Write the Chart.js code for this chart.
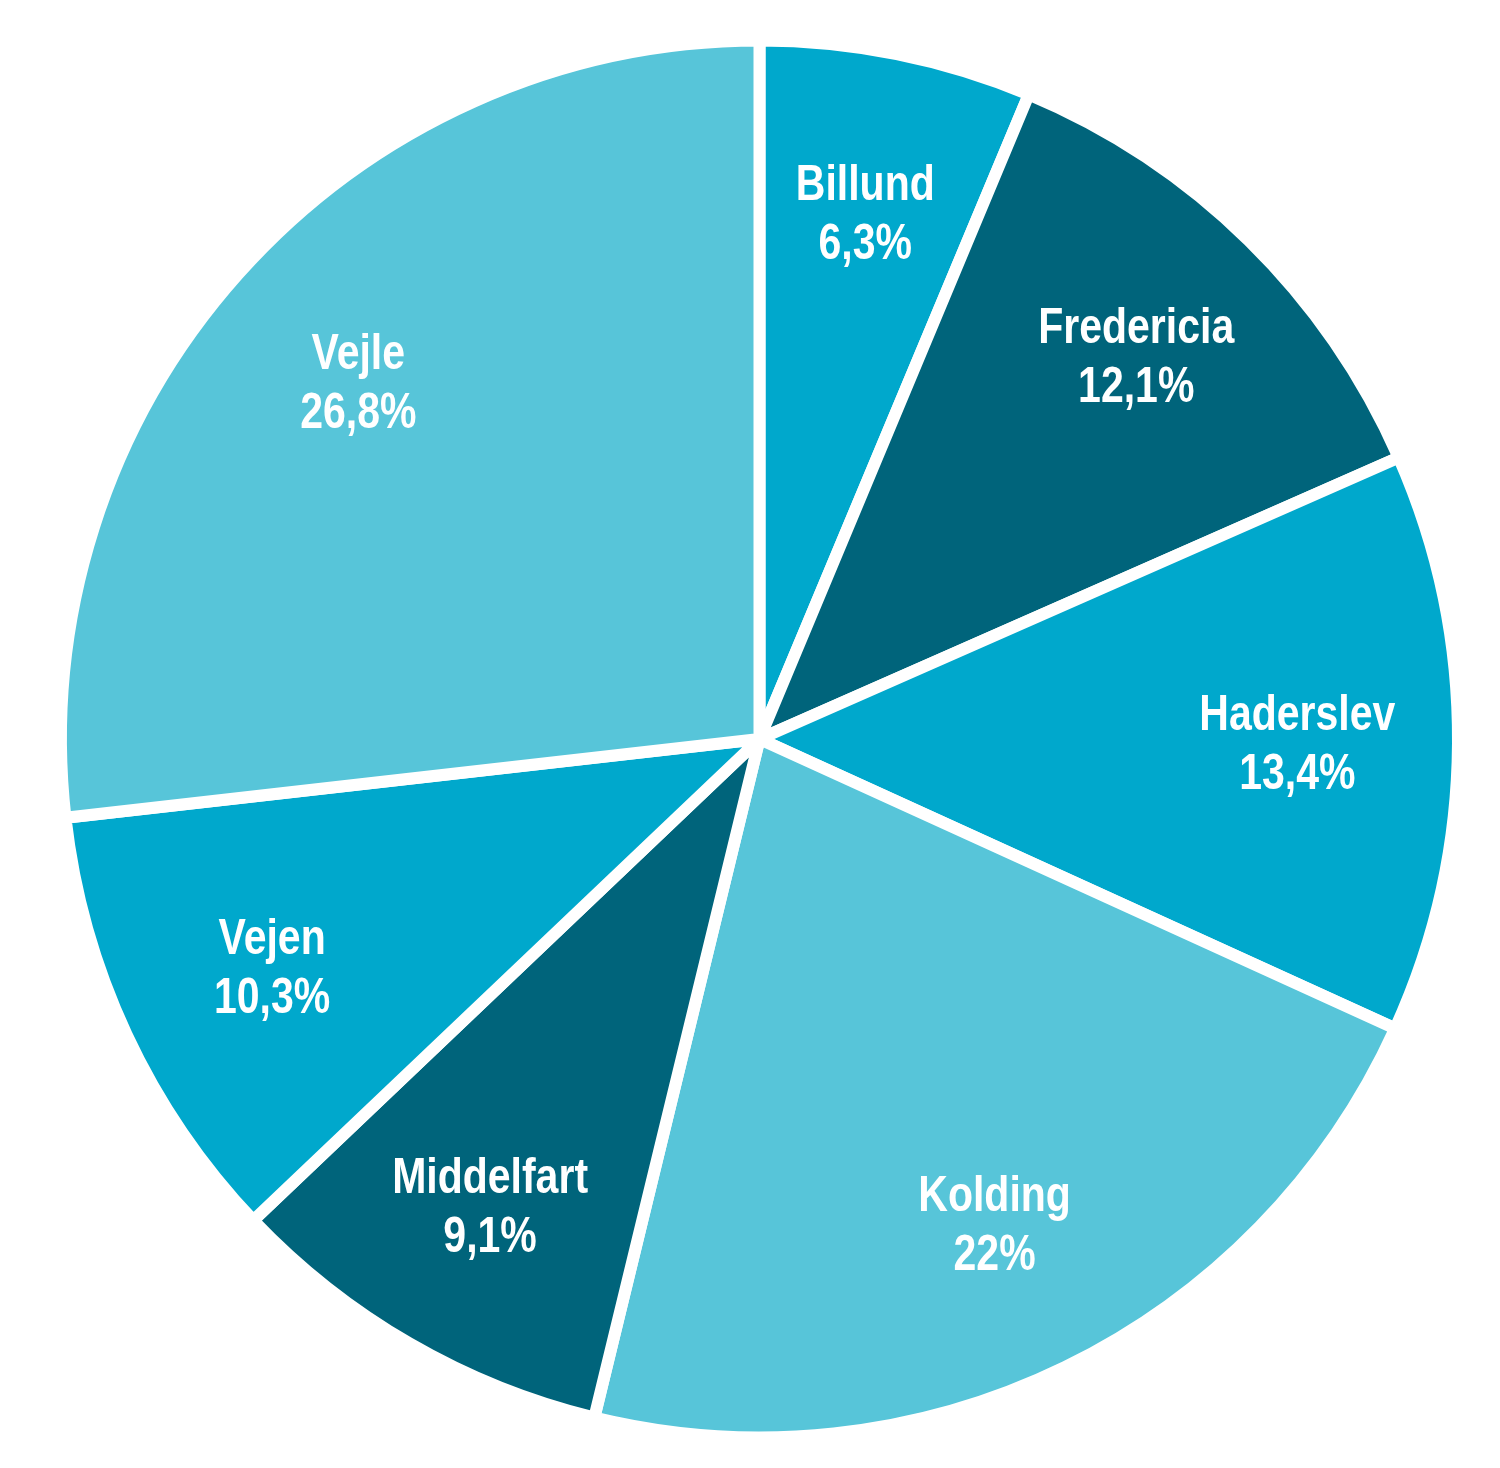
<!DOCTYPE html>
<html>
<head>
<meta charset="utf-8">
<script src="https://cdn.jsdelivr.net/npm/chart.js@4.4.0/dist/chart.umd.min.js"></script>
<style>
  html, body { margin: 0; padding: 0; background: #fff; }
  #wrap { width: 1500px; height: 1468px; }
</style>
</head>
<body>
<div id="wrap"><canvas id="pieChart"></canvas></div>
<script>
// municipalities, clockwise from 12 o'clock
const labels = ['Billund', 'Fredericia', 'Haderslev', 'Kolding', 'Middelfart', 'Vejen', 'Vejle'];
const shares = [6.3, 12.1, 13.4, 22, 9.1, 10.3, 26.8];
const sliceColors = ['#00a8cc', '#00647b', '#00a8cc', '#57c5d9', '#00647b', '#00a8cc', '#57c5d9'];

// danish decimal comma
function pctText(v) {
    return String(v).replace('.', ',') + '%';
}

// no condensed face installed, so squeeze a normal sans horizontally
const squeeze = 0.82;

const sliceLabels = {
    id: 'sliceLabels',
    afterDatasetsDraw(chart) {
        const ctx = chart.ctx;
        const meta = chart.getDatasetMeta(0);
        meta.data.forEach((arc, i) => {
            const p = arc.getProps(['x', 'y', 'startAngle', 'endAngle', 'outerRadius'], true);
            const mid = (p.startAngle + p.endAngle) / 2;
            const r = p.outerRadius * 0.77;
            const x = p.x + Math.cos(mid) * r;
            const y = p.y + Math.sin(mid) * r;
            ctx.save();
            ctx.translate(x, y);
            ctx.scale(squeeze, 1);
            ctx.fillStyle = '#ffffff';
            ctx.textAlign = 'center';
            ctx.textBaseline = 'alphabetic';
            ctx.font = 'bold 50px "Liberation Sans", Arial, sans-serif';
            ctx.fillText(labels[i], 0, -12);
            ctx.fillText(pctText(shares[i]), 0, 47);
            ctx.restore();
        });
    }
};

const config = {
    type: 'pie',
    data: {
        labels: labels,
        datasets: [{
            data: shares,
            backgroundColor: sliceColors,
            borderColor: '#ffffff',
            borderWidth: 12
        }]
    },
    options: {
        responsive: true,
        maintainAspectRatio: false,
        animation: false,
        layout: {
            padding: { left: 55, right: 36, top: 34.5, bottom: 24.5 }
        },
        plugins: {
            legend: { display: false },
            tooltip: { enabled: false }
        }
    },
    plugins: [sliceLabels]
};

const myChart = new Chart(document.getElementById('pieChart'), config);
</script>
</body>
</html>
